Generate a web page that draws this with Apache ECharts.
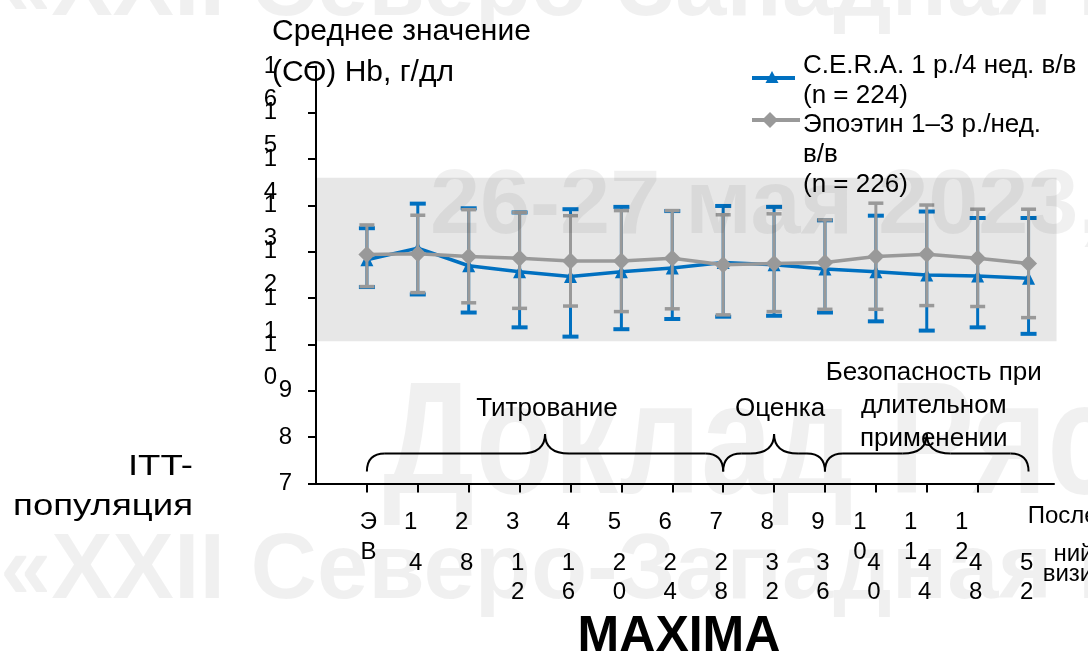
<!DOCTYPE html>
<html><head><meta charset="utf-8">
<script src="https://cdn.jsdelivr.net/npm/echarts@6/dist/echarts.min.js"></script>
<style>html,body{margin:0;padding:0;background:#fff}#c{width:1088px;height:659px}</style>
</head><body><div id="c"></div>
<script>
// ---- data ----
const visitLabels = ['ЭВ','1','2','3','4','5','6','7','8','9','10','11','12'];
const weekLabels = ['', '4','8','12','16','20','24','28','32','36','40','44','48','52'];
const lastVisitLines = ['Послед-','ний','визит'];
const yTickLabels = ['7','8','9','10','11','12','13','14','15','16'];
const seriesNames = ['C.E.R.A. 1 р./4 нед. в/в\n(n = 224)', 'Эпоэтин 1–3 р./нед.\nв/в\n(n = 226)'];
const ceraMean = [11.83, 12.08, 11.70, 11.57, 11.47, 11.57, 11.65, 11.77, 11.72, 11.63, 11.57, 11.50, 11.48, 11.43];
const ceraHigh = [12.51, 13.04, 12.94, 12.85, 12.92, 12.97, 12.88, 12.99, 12.97, 12.68, 12.78, 12.87, 12.73, 12.73];
const ceraLow  = [11.24, 11.08, 10.69, 10.37, 10.17, 10.33, 10.55, 10.60, 10.62, 10.69, 10.50, 10.30, 10.37, 10.23];
const epoMean  = [11.94, 11.96, 11.90, 11.86, 11.80, 11.80, 11.86, 11.72, 11.75, 11.77, 11.90, 11.95, 11.86, 11.75];
const epoHigh  = [12.58, 12.79, 12.91, 12.85, 12.78, 12.89, 12.89, 12.80, 12.82, 12.69, 13.05, 13.01, 12.92, 12.92];
const epoLow   = [11.25, 11.12, 10.90, 10.78, 10.83, 10.71, 10.77, 10.64, 10.71, 10.76, 10.76, 10.84, 10.82, 10.58];
const targetRange = [10.07, 13.6];
const phases = ['Титрование', 'Оценка', 'Безопасность при\nдлительном\nприменении'];
const phaseStart = [0, 7, 9];
const phaseEnd = [7, 9, 13];
const titleText = 'Среднее значение\n(СО) Hb, г/дл';
const popText = 'ITT-\nпопуляция';
const studyText = 'MAXIMA';
const watermarks = ['«XXII Северо-Западная на', '26-27 мая 2023,', 'Доклад Ряс'];

// ---- chart ----
const FONT = '"Liberation Sans", Arial, sans-serif';
const BLUE = '#0070C0', GRAY = '#999999';
const X_MIN = -1, X_MAX = 13.5;
const idx = visitLabels.map((_, i) => i);
// half-step slots spanning the x range, used only to place tick labels on a category axis
const slots = [];
for (let k = 0; k <= (X_MAX - X_MIN) * 2; k++) slots.push(String(X_MIN + k / 2));
const slotValue = i => X_MIN + i / 2;

const chart = echarts.init(document.getElementById('c'), null, {renderer: 'canvas'});

function errRender(color, capW, capLW) {
  return function (params, api) {
    const x = api.value(0), lo = api.value(1), hi = api.value(2);
    const a = api.coord([x, lo]), b = api.coord([x, hi]);
    const st = {stroke: color, lineWidth: 3};
    const cs = {stroke: color, lineWidth: capLW};
    return {type: 'group', children: [
      {type: 'line', shape: {x1: a[0], y1: a[1], x2: b[0], y2: b[1]}, style: st},
      {type: 'line', shape: {x1: a[0] - capW / 2, y1: a[1], x2: a[0] + capW / 2, y2: a[1]}, style: cs},
      {type: 'line', shape: {x1: b[0] - capW / 2, y1: b[1], x2: b[0] + capW / 2, y2: b[1]}, style: cs}
    ]};
  };
}
const stackChars = (s, cls) => s.split('').map(c => '{' + cls + '|' + c + '}').join('\n');

const labelDx = [2, 6, 7];
const labelDy = [-25, -25, 5];
const lbl = (extra) => Object.assign({fontSize: 24, color: '#000', fontFamily: FONT}, extra);

const option = {
  animation: false,
  backgroundColor: '#fff',
  textStyle: {fontFamily: FONT, color: '#000'},
  title: {
    text: titleText, left: 267, top: 6,
    textStyle: {fontFamily: FONT, fontSize: 30, fontWeight: 'normal', lineHeight: 41, color: '#000'}
  },
  legend: {show: false},
  grid: {left: 316, right: 34, top: 66.5, bottom: 175.5, containLabel: false},
  xAxis: [
    { // axis line + ticks
      type: 'value', min: X_MIN, max: X_MAX, position: 'bottom', z: 10,
      axisLine: {show: true, onZero: false, lineStyle: {color: '#000', width: 2}},
      axisTick: {show: true, customValues: idx, length: 9, lineStyle: {color: '#000', width: 2}},
      axisLabel: {show: false}, splitLine: {show: false}
    },
    { // week labels
      type: 'category', data: slots, boundaryGap: false, position: 'bottom', z: 10,
      axisLine: {show: false, onZero: false}, axisTick: {show: false}, splitLine: {show: false},
      axisLabel: {
        interval: 0, margin: 65, hideOverlap: false,
        formatter: (v, i) => {
          const x = slotValue(i);
          if (x !== Math.round(x) || x < 0) return '';
          return stackChars(weekLabels[x] || '', 'w');
        },
        rich: {w: lbl({lineHeight: 29, padding: [0, 4, 0, 0]})}
      }
    },
    { // visit labels
      type: 'category', data: slots, boundaryGap: false, position: 'bottom', z: 10,
      axisLine: {show: false, onZero: false}, axisTick: {show: false}, splitLine: {show: false},
      axisLabel: {
        interval: 0, margin: 24, hideOverlap: false,
        formatter: (v, i) => {
          const x = slotValue(i);
          if (x !== Math.round(x) || x < 0) return '';
          const s = visitLabels[x];
          if (s == null) return '';
          return stackChars(s, x === 0 ? 'e' : (s.length > 1 ? 'b' : 'a'));
        },
        rich: {
          e: lbl({lineHeight: 30, padding: [0, 0, 0, 3]}),
          a: lbl({lineHeight: 30, padding: [0, 14, 0, 0]}),
          b: lbl({lineHeight: 30, padding: [0, 32, 0, 0]})
        }
      }
    }
  ],
  yAxis: [
    { // axis line + ticks
      type: 'value', min: 7, max: 16, interval: 1, position: 'left', z: 10,
      axisLine: {show: true, onZero: false, lineStyle: {color: '#000', width: 2}},
      axisTick: {show: true, length: 8, lineStyle: {color: '#000', width: 2}},
      axisLabel: {show: false}, splitLine: {show: false}
    },
    { // tick labels
      type: 'category', data: yTickLabels, boundaryGap: false, position: 'left', z: 10,
      axisLine: {show: false, onZero: false}, axisTick: {show: false}, splitLine: {show: false},
      axisLabel: {
        interval: 0, margin: 24, hideOverlap: false,
        formatter: v => {
          if (v.length < 2) return '{s|' + v + '}';
          return '{m| }\n' + stackChars(v, 'm');
        },
        rich: {
          s: lbl({lineHeight: 33}),
          m: lbl({lineHeight: 33, padding: [0, 15, 0, 0]})
        }
      }
    }
  ],
  series: [
    {
      type: 'custom', name: 'band', z: 1, silent: true,
      data: [[0, targetRange[0], targetRange[1]]],
      renderItem: (params, api) => {
        const a = api.coord([X_MIN, api.value(2)]);
        const b = api.coord([X_MAX + 0.05, api.value(1)]);
        return {type: 'rect', shape: {x: a[0], y: a[1], width: b[0] - a[0], height: b[1] - a[1]}, style: {fill: '#e7e7e7'}};
      }
    },
    {
      type: 'custom', name: 'cera-err', z: 2, silent: true,
      data: ceraLow.map((l, i) => [i, l, ceraHigh[i]]),
      renderItem: errRender(BLUE, 16, 4)
    },
    {
      type: 'line', name: seriesNames[0], z: 3,
      data: ceraMean.map((v, i) => [i, v]),
      symbol: 'triangle', symbolSize: 13,
      lineStyle: {color: BLUE, width: 3.5}, itemStyle: {color: BLUE}
    },
    {
      type: 'custom', name: 'epo-err', z: 4, silent: true,
      data: epoLow.map((l, i) => [i, l, epoHigh[i]]),
      renderItem: errRender(GRAY, 15, 3.5)
    },
    {
      type: 'line', name: seriesNames[1], z: 5,
      data: epoMean.map((v, i) => [i, v]),
      symbol: 'diamond', symbolSize: [17, 17],
      lineStyle: {color: GRAY, width: 3.5}, itemStyle: {color: GRAY}
    },
    {
      type: 'custom', name: 'phases', z: 6, silent: true,
      data: phases.map((p, i) => [phaseStart[i], phaseEnd[i], i]),
      renderItem: (params, api) => {
        const i = api.value(2);
        const pa = api.coord([api.value(0), 7]);
        const pb = api.coord([api.value(1), 7]);
        const x1 = pa[0], x2 = pb[0], base = pa[1];
        const yb = base - 12, yh = base - 30, yt = base - 49.5, m = (x1 + x2) / 2, r = 18, p = 24;
        const st = {stroke: '#000', lineWidth: 2, fill: null};
        return {type: 'group', children: [
          {type: 'bezierCurve', shape: {x1: x1, y1: yb, x2: x1 + r, y2: yh, cpx1: x1, cpy1: yh}, style: st},
          {type: 'line', shape: {x1: x1 + r, y1: yh, x2: m - p, y2: yh}, style: st},
          {type: 'bezierCurve', shape: {x1: m - p, y1: yh, x2: m, y2: yt, cpx1: m, cpy1: yh}, style: st},
          {type: 'bezierCurve', shape: {x1: m, y1: yt, x2: m + p, y2: yh, cpx1: m, cpy1: yh}, style: st},
          {type: 'line', shape: {x1: m + p, y1: yh, x2: x2 - r, y2: yh}, style: st},
          {type: 'bezierCurve', shape: {x1: x2 - r, y1: yh, x2: x2, y2: yb, cpx1: x2, cpy1: yh}, style: st},
          {type: 'text', x: m + labelDx[i], y: yt + labelDy[i] + 16.5,
           style: {text: phases[i], align: 'center', verticalAlign: 'bottom', textAlign: 'center', textVerticalAlign: 'bottom',
                   fontSize: 26, lineHeight: 33, fill: '#000', fontFamily: FONT}}
        ]};
      }
    }
  ]
};
chart.setOption(option);

// graphics: legend, side texts, last-visit label, watermark
const lastX = chart.convertToPixel({xAxisIndex: 0}, 14) - 6;
const lastY = [516, 554, 574];
const WM = 'rgba(0,0,0,0.06)';
const txt = (x, y, text, extra) => ({
  type: 'text', x: x, y: y, silent: true, z: 50,
  style: Object.assign({text: text, fill: '#000', fontFamily: FONT, fontSize: 26}, extra || {})
});
const graphics = [
  // legend
  {type: 'line', z: 50, silent: true, shape: {x1: 752, y1: 78, x2: 795, y2: 78}, style: {stroke: BLUE, lineWidth: 4}},
  {type: 'polygon', z: 51, silent: true, shape: {points: [[772, 71], [765.5, 83], [778.5, 83]]}, style: {fill: BLUE}},
  txt(803, 51, seriesNames[0], {lineHeight: 30, verticalAlign: 'top', textVerticalAlign: 'top'}),
  {type: 'line', z: 50, silent: true, shape: {x1: 752, y1: 120, x2: 800, y2: 120}, style: {stroke: GRAY, lineWidth: 4}},
  {type: 'polygon', z: 51, silent: true, shape: {points: [[770, 112], [778, 120], [770, 128], [762, 120]]}, style: {fill: GRAY}},
  txt(803, 110, seriesNames[1], {lineHeight: 30, verticalAlign: 'top', textVerticalAlign: 'top'}),
  // population text (stretched horizontally like the slide)
  Object.assign(txt(193, 447, popText, {fontSize: 30, lineHeight: 40, align: 'right', textAlign: 'right', verticalAlign: 'top', textVerticalAlign: 'top'}), {scaleX: 1.22}),
  // study name
  txt(679, 637, studyText, {fontSize: 50, fontWeight: 'bold', align: 'center', textAlign: 'center', verticalAlign: 'middle', textVerticalAlign: 'middle'}),
  // watermark
  {type: 'text', x: 0, y: -10, silent: true, z: 100, style: {text: watermarks[0], fill: WM, font: 'bold 92px "Liberation Sans"', verticalAlign: 'middle', textVerticalAlign: 'middle'}},
  {type: 'text', x: 0, y: 573, silent: true, z: 100, style: {text: watermarks[0], fill: WM, font: 'bold 92px "Liberation Sans"', verticalAlign: 'middle', textVerticalAlign: 'middle'}},
  {type: 'text', x: 430, y: 208, silent: true, z: 100, style: {text: watermarks[1], fill: WM, font: 'bold 90px "Liberation Sans"', verticalAlign: 'middle', textVerticalAlign: 'middle'}},
  {type: 'text', x: 383, y: 449, scaleX: 0.8, silent: true, z: 100, style: {text: watermarks[2], fill: WM, font: 'bold 160px "Liberation Sans"', verticalAlign: 'middle', textVerticalAlign: 'middle'}}
];
lastVisitLines.forEach((s, i) => {
  graphics.push(txt(lastX, lastY[i], s, {fontSize: 24, align: 'center', textAlign: 'center', verticalAlign: 'middle', textVerticalAlign: 'middle'}));
});
chart.setOption({graphic: graphics});
</script>
</body></html>
